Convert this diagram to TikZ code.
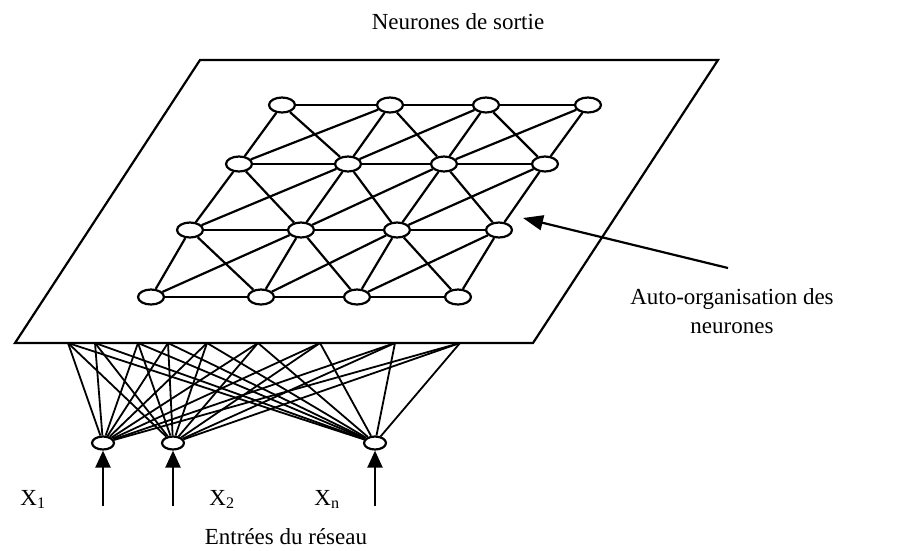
\documentclass[tikz,border=0pt]{standalone}
\usepackage{fontspec}
\setmainfont{Liberation Serif}
\usetikzlibrary{arrows.meta,shapes.geometric}
\begin{document}
\begin{tikzpicture}[x=1pt,y=-1pt,line width=2.2pt,
  neur/.style={draw,ellipse,minimum width=26pt,minimum height=15pt,inner sep=0pt,fill=white},
  inneur/.style={draw,ellipse,minimum width=22pt,minimum height=13pt,inner sep=0pt,fill=white},
  lbl/.style={font=\fontsize{23}{29}\selectfont,inner sep=0pt},
  fan/.style={line width=1.8pt},
  inarrow/.style={-{Triangle[length=17pt,width=15pt]}}]
\useasboundingbox (0,0) rectangle (897,550);
% plane
\coordinate (p1) at (200,60);
\coordinate (p2) at (718,60);
\coordinate (p3) at (533,343);
\coordinate (p4) at (15,343);
\draw (p1) -- (p2) -- (p3) -- (p4) -- cycle;
% grid neurons
\node[neur] (n11) at (282,105) {};
\node[neur] (n12) at (390,105) {};
\node[neur] (n13) at (486,105) {};
\node[neur] (n14) at (588,105) {};
\node[neur] (n21) at (239,164) {};
\node[neur] (n22) at (348,164) {};
\node[neur] (n23) at (444,164) {};
\node[neur] (n24) at (545,164) {};
\node[neur] (n31) at (190,230) {};
\node[neur] (n32) at (301,230) {};
\node[neur] (n33) at (397,230) {};
\node[neur] (n34) at (499,230) {};
\node[neur] (n41) at (151,297) {};
\node[neur] (n42) at (261,297) {};
\node[neur] (n43) at (357,297) {};
\node[neur] (n44) at (458,297) {};
% horizontal links
\foreach \r in {1,2,3,4} \foreach \c in {1,2,3} {
  \pgfmathtruncatemacro\cc{\c+1}
  \draw (n\r\c) -- (n\r\cc);
}
% column links
\foreach \r in {1,2,3} \foreach \c in {1,2,3,4} {
  \pgfmathtruncatemacro\rr{\r+1}
  \draw (n\r\c) -- (n\rr\c);
}
% diagonals
\foreach \r in {1,2,3} \foreach \c in {1,2,3} {
  \pgfmathtruncatemacro\rr{\r+1}
  \pgfmathtruncatemacro\cc{\c+1}
  \draw (n\r\c) -- (n\rr\cc);
  \draw (n\rr\c) -- (n\r\cc);
}
% input neurons
\node[inneur] (ina) at (103,443) {};
\node[inneur] (inb) at (173,443) {};
\node[inneur] (inc) at (375,443) {};
% fan points on plane edge
\foreach \k/\x in {1/68,2/95,3/138,4/168,5/207,6/258,7/320,8/395,9/460}
  \coordinate (t\k) at (\x,343);
\foreach \k in {1,...,9} \foreach \i in {a,b,c}
  \draw[fan] (t\k) -- (in\i);
% input arrows
\coordinate (sa) at (103,506);
\coordinate (sb) at (173,506);
\coordinate (sc) at (375,506);
\draw[inarrow] (sa) -- (ina);
\draw[inarrow] (sb) -- (inb);
\draw[inarrow] (sc) -- (inc);
% self-organisation arrow
\coordinate (atail) at (728,268);
\coordinate (atip) at (523,218);
\draw[-{Triangle[length=20pt,width=15pt]}] (atail) -- (atip);
% labels
\node[lbl,anchor=base] (title) at (458,29) {Neurones de sortie};
\node[lbl,align=center,anchor=north] (auto) at (732,287) {Auto-organisation des\\neurones};
\node[lbl,anchor=base] (x1) at (33,505) {X\textsubscript{1}};
\node[lbl,anchor=base] (x2) at (222,505) {X\textsubscript{2}};
\node[lbl,anchor=base] (xn) at (327,505) {X\textsubscript{n}};
\node[lbl,anchor=base] (entrees) at (286,544) {Entrées du réseau};
\end{tikzpicture}
\end{document}
